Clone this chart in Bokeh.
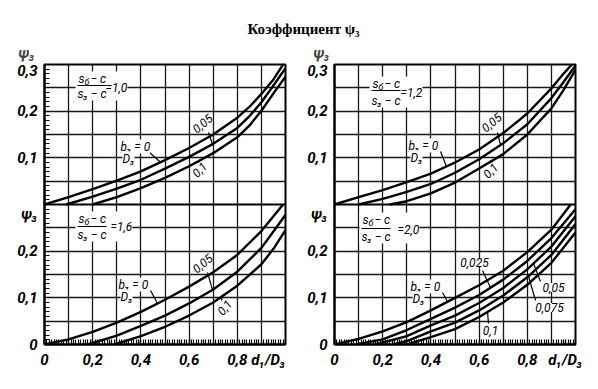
import numpy as np
from bokeh.plotting import figure
from bokeh.models import Range1d, FixedTicker, Label, Span, BoxAnnotation
from bokeh.layouts import column, row
from bokeh.embed import file_html
from bokeh.resources import INLINE

# ---------------- texts ----------------
title_text = "Коэффициент ψ₃"
x_tick_values = [0, 0.2, 0.4, 0.6, 0.8]
x_tick_labels = ["0", "0,2", "0,4", "0,6", "0,8"]
x_name = "d₁/D₃"
y_tick_values_top = [0, 0.1, 0.2, 0.3]
y_tick_labels_top = ["0", "0,1", "0,2", "0,3"]
y_tick_values_bottom = [0, 0.1, 0.2]
y_tick_labels_bottom = ["0", "0,1", "0,2"]
y_name = "ψ₃"
ratios = ["1,0", "1,2", "1,6", "2,0"]          # (s_б - c)/(s_3 - c) for TL, TR, BL, BR
b_labels_3 = ["0,05", "0,1"]
b_labels_5 = ["0,025", "0,05", "0,075", "0,1"]

# ---------------- data ----------------
# top-left, ratio 1,0
tl_x_0 = [0, 0.1, 0.2, 0.3, 0.4, 0.5, 0.6, 0.7, 0.8, 0.85, 0.9, 0.95, 0.99]
tl_y_0 = [0, 0.016, 0.033, 0.051, 0.071, 0.095, 0.121, 0.150, 0.186, 0.209, 0.237, 0.268, 0.300]
tl_x_05 = [0.09, 0.2, 0.3, 0.4, 0.5, 0.6, 0.7, 0.8, 0.85, 0.9, 0.95, 1.0]
tl_y_05 = [0, 0.017, 0.034, 0.053, 0.077, 0.102, 0.130, 0.164, 0.189, 0.219, 0.255, 0.292]
tl_x_1 = [0.2, 0.3, 0.4, 0.5, 0.6, 0.7, 0.8, 0.85, 0.9, 0.95, 1.0]
tl_y_1 = [0, 0.016, 0.035, 0.057, 0.082, 0.110, 0.144, 0.169, 0.201, 0.238, 0.274]

# top-right, ratio 1,2
tr_x_0 = [0, 0.1, 0.2, 0.3, 0.4, 0.5, 0.6, 0.7, 0.8, 0.9, 0.95, 0.985]
tr_y_0 = [0, 0.016, 0.031, 0.048, 0.066, 0.090, 0.118, 0.153, 0.195, 0.249, 0.280, 0.300]
tr_x_05 = [0.1, 0.2, 0.3, 0.4, 0.5, 0.6, 0.7, 0.8, 0.9, 0.95, 1.0]
tr_y_05 = [0, 0.012, 0.027, 0.044, 0.068, 0.097, 0.131, 0.172, 0.228, 0.262, 0.298]
tr_x_1 = [0.23, 0.3, 0.4, 0.5, 0.6, 0.7, 0.8, 0.9, 0.95, 1.0]
tr_y_1 = [0, 0.007, 0.024, 0.047, 0.077, 0.108, 0.150, 0.206, 0.245, 0.289]

# bottom-left, ratio 1,6
bl_x_0 = [0, 0.1, 0.2, 0.3, 0.4, 0.5, 0.6, 0.7, 0.8, 0.9, 0.95, 0.99]
bl_y_0 = [0, 0.011, 0.027, 0.047, 0.070, 0.096, 0.124, 0.155, 0.192, 0.243, 0.275, 0.300]
bl_x_05 = [0.18, 0.3, 0.4, 0.5, 0.6, 0.7, 0.8, 0.9, 0.95, 1.0]
bl_y_05 = [0, 0.019, 0.040, 0.062, 0.088, 0.118, 0.156, 0.207, 0.242, 0.278]
bl_x_1 = [0.29, 0.4, 0.5, 0.6, 0.7, 0.8, 0.9, 0.95, 1.0]
bl_y_1 = [0, 0.018, 0.038, 0.062, 0.090, 0.126, 0.172, 0.205, 0.245]

# bottom-right, ratio 2,0
br_x_0 = [0, 0.1, 0.2, 0.3, 0.4, 0.5, 0.6, 0.7, 0.8, 0.9, 0.98]
br_y_0 = [0, 0.012, 0.028, 0.048, 0.073, 0.100, 0.127, 0.158, 0.198, 0.246, 0.300]
br_x_025 = [0.09, 0.2, 0.3, 0.4, 0.5, 0.6, 0.7, 0.8, 0.9, 1.0]
br_y_025 = [0, 0.011, 0.031, 0.055, 0.079, 0.106, 0.139, 0.179, 0.228, 0.290]
br_x_05 = [0.17, 0.3, 0.4, 0.5, 0.6, 0.7, 0.8, 0.9, 1.0]
br_y_05 = [0, 0.018, 0.041, 0.062, 0.089, 0.121, 0.161, 0.210, 0.275]
br_x_075 = [0.24, 0.3, 0.4, 0.5, 0.6, 0.7, 0.8, 0.9, 1.0]
br_y_075 = [0, 0.007, 0.028, 0.047, 0.073, 0.105, 0.144, 0.192, 0.258]
br_x_1 = [0.3, 0.4, 0.5, 0.6, 0.7, 0.8, 0.9, 1.0]
br_y_1 = [0, 0.016, 0.033, 0.059, 0.090, 0.128, 0.175, 0.240]

# ---------------- styling / layout ----------------
FONT = "Roboto"
TFONT = "Liberation Serif"
FRAME_W, FRAME_H = 241, 280
LEFT0 = {"L": 44, "R": 334}       # page x of frame left edge
BOTTOM_PX = 343                   # page y of frame bottom
PX_PER_Y = FRAME_H / 0.6


def dx(side, px):
    return (px - LEFT0[side]) / FRAME_W


def dy(rng, py):
    y = (BOTTOM_PX - py) / PX_PER_Y
    return y - 0.3 if rng == "top" else y


def add_text(p, side, rng, px, py, text, size="12px", align="left", baseline="middle",
             angle=0, style="italic", font=FONT, bg=None):
    lab = Label(x=dx(side, px), y=dy(rng, py), text=text, text_font=font,
                text_font_style=style, text_font_size=size, text_align=align,
                text_baseline=baseline, angle=np.deg2rad(angle), text_color="black",
                y_range_name=rng, background_fill_color=bg)
    p.add_layout(lab)


def seg(p, side, rng, px0, py0, px1, py1, w=1.3):
    p.segment(x0=[dx(side, px0)], y0=[dy(rng, py0)], x1=[dx(side, px1)], y1=[dy(rng, py1)],
              y_range_name=rng, line_color="black", line_width=w)


def leader_to_curve(p, side, rng, px0, py0, px1, cx, cy, w=1.2):
    x1 = dx(side, px1)
    y1 = float(np.interp(x1, cx, cy))
    p.segment(x0=[dx(side, px0)], y0=[dy(rng, py0)], x1=[x1], y1=[y1],
              y_range_name=rng, line_color="black", line_width=w)


def fraction(p, side, rng, left, num_py, line_py, den_py, eq_px, eq_py, ratio):
    p.add_layout(BoxAnnotation(left=dx(side, left - 3), right=dx(side, eq_px + 22),
                               top=dy(rng, num_py - 7), bottom=dy(rng, den_py + 7),
                               y_range_name=rng, fill_color="white", fill_alpha=1,
                               line_alpha=0, level="underlay"))
    add_text(p, side, rng, left, num_py, "s")
    add_text(p, side, rng, left + 6, num_py + 3, "б", size="9px")
    add_text(p, side, rng, left + 12, num_py, "− c")
    seg(p, side, rng, left - 1, line_py, left + 28, line_py, w=1.2)
    add_text(p, side, rng, left - 1, den_py, "s₃ − c")
    add_text(p, side, rng, eq_px, eq_py, "=" + ratio)


def b_label(p, side, rng, left, py):
    add_text(p, side, rng, left, py, "b₃ = 0", bg="white")
    seg(p, side, rng, left, py + 6, left + 13, py + 6, w=1.1)
    add_text(p, side, rng, left + 2, py + 12, "D₃", bg="white")


def make_column(side, minor_y, border_left, border_right, name_x, name_offset):
    p = figure(frame_width=FRAME_W, frame_height=FRAME_H,
               x_range=Range1d(0, 1), y_range=Range1d(0, 0.6),
               output_backend="svg", toolbar_location=None,
               min_border_left=border_left, min_border_right=border_right,
               min_border_top=25, min_border_bottom=28,
               background_fill_color="white", border_fill_color="white")
    p.extra_y_ranges = {"top": Range1d(-0.3, 0.3)}
    p.outline_line_color = "black"
    p.outline_line_width = 2

    # y-axis name above the top panel
    p.title.text = y_name
    p.title.align = "left"
    p.title.offset = name_offset
    p.title.standoff = 6
    p.title.text_font = FONT
    p.title.text_font_style = "bold italic"
    p.title.text_font_size = "15px"

    # grid
    p.xgrid.ticker = FixedTicker(ticks=[round(0.1 * i, 2) for i in range(1, 10)])
    p.ygrid.ticker = FixedTicker(ticks=[round(0.05 * i, 2) for i in range(1, 12) if i != 6])
    for g in (p.xgrid[0], p.ygrid[0]):
        g.grid_line_color = "black"
        g.grid_line_width = 1.3
        g.grid_line_alpha = 0.9
    p.add_layout(Span(location=0.3, dimension="width", line_color="black", line_width=2))

    # y axis: bottom panel ticks, y-name of bottom panel, top panel ticks (shifted by 0.3);
    # the topmost label sits just below the frame edge, as in the original
    top_pos = [v + 0.3 for v in y_tick_values_top[1:]]
    top_pos[-1] -= 0.013
    yt = ([float(v) for v in y_tick_values_bottom] + [0.28] + [round(v, 3) for v in top_pos])
    yl = y_tick_labels_bottom + [y_name] + y_tick_labels_top[1:]
    yax = p.yaxis[0]
    yax.ticker = FixedTicker(ticks=yt, minor_ticks=[round(0.01 * i, 2) for i in range(0, 61)] if minor_y else [])
    yax.major_label_overrides = dict(zip(yt, yl))
    yax.major_tick_in = 0
    yax.major_tick_out = 0
    yax.minor_tick_in = 5 if minor_y else 0
    yax.minor_tick_out = 0
    yax.minor_tick_line_width = 1.2
    yax.axis_line_width = 2
    yax.major_label_standoff = 7
    yax.major_label_text_font = FONT
    yax.major_label_text_font_style = "bold italic"
    yax.major_label_text_font_size = "15px"
    yax.major_label_text_color = "black"

    xt = [float(v) for v in x_tick_values] + [name_x]
    xl = x_tick_labels + [x_name]
    xax = p.xaxis[0]
    xax.ticker = FixedTicker(ticks=xt, minor_ticks=[round(0.01 * i, 2) for i in range(0, 101)])
    xax.major_label_overrides = dict(zip(xt, xl))
    xax.major_tick_in = 5
    xax.major_tick_out = 0
    xax.major_tick_line_width = 1.2
    xax.minor_tick_in = 5
    xax.minor_tick_out = 0
    xax.minor_tick_line_width = 1.2
    xax.axis_line_width = 2
    xax.major_label_standoff = 6
    xax.major_label_text_font = FONT
    xax.major_label_text_font_style = "bold italic"
    xax.major_label_text_font_size = "15px"
    xax.major_label_text_color = "black"
    return p


def curve(p, rng, xs, ys):
    p.line(xs, ys, y_range_name=rng, line_color="black", line_width=2.4, line_join="round")


# ---------------- left column ----------------
pl = make_column("L", True, 44, 5, 0.929, -26)
for xs, ys in [(tl_x_0, tl_y_0), (tl_x_05, tl_y_05), (tl_x_1, tl_y_1)]:
    curve(pl, "top", xs, ys)
for xs, ys in [(bl_x_0, bl_y_0), (bl_x_05, bl_y_05), (bl_x_1, bl_y_1)]:
    curve(pl, "default", xs, ys)

fraction(pl, "L", "top", 78, 77, 84, 92, 105, 86, ratios[0])
b_label(pl, "L", "top", 120, 145)
leader_to_curve(pl, "L", "top", 148, 150, 160, tl_x_0, tl_y_0)
add_text(pl, "L", "top", 202, 122, b_labels_3[0], align="center", angle=40)
leader_to_curve(pl, "L", "top", 208, 131, 212, tl_x_05, tl_y_05)
add_text(pl, "L", "top", 199, 168, b_labels_3[1], align="center", angle=45)
leader_to_curve(pl, "L", "top", 198, 161, 199, tl_x_1, tl_y_1)

fraction(pl, "L", "default", 78, 217, 225, 233, 110, 225, ratios[2])
b_label(pl, "L", "default", 118, 283)
leader_to_curve(pl, "L", "default", 150, 289, 157, bl_x_0, bl_y_0)
add_text(pl, "L", "default", 202, 262, b_labels_3[0], align="center", angle=40)
leader_to_curve(pl, "L", "default", 207, 271, 212, bl_x_05, bl_y_05)
add_text(pl, "L", "default", 224, 306, b_labels_3[1], align="center", angle=50)
leader_to_curve(pl, "L", "default", 221, 299, 222, bl_x_1, bl_y_1)

# ---------------- right column ----------------
pr = make_column("R", False, 44, 15, 0.958, -21)
for xs, ys in [(tr_x_0, tr_y_0), (tr_x_05, tr_y_05), (tr_x_1, tr_y_1)]:
    curve(pr, "top", xs, ys)
for xs, ys in [(br_x_0, br_y_0), (br_x_025, br_y_025), (br_x_05, br_y_05),
               (br_x_075, br_y_075), (br_x_1, br_y_1)]:
    curve(pr, "default", xs, ys)

fraction(pr, "R", "top", 372, 82, 89, 99, 400, 91, ratios[1])
b_label(pr, "R", "top", 408, 144)
leader_to_curve(pr, "R", "top", 440, 150, 446, tr_x_0, tr_y_0)
add_text(pr, "R", "top", 491, 121, b_labels_3[0], align="center", angle=40)
leader_to_curve(pr, "R", "top", 497, 131, 500, tr_x_05, tr_y_05)
add_text(pr, "R", "top", 490, 169, b_labels_3[1], align="center", angle=45)
leader_to_curve(pr, "R", "top", 491, 161, 492, tr_x_1, tr_y_1)

fraction(pr, "R", "default", 362, 218, 227, 235, 397, 228, ratios[3])
b_label(pr, "R", "default", 410, 285)
leader_to_curve(pr, "R", "default", 442, 291, 447, br_x_0, br_y_0)
add_text(pr, "R", "default", 474, 261, b_labels_5[0], align="center", bg="white")
leader_to_curve(pr, "R", "default", 482, 269, 490, br_x_025, br_y_025)
add_text(pr, "R", "default", 553, 286, b_labels_5[1], align="center", bg="white")
leader_to_curve(pr, "R", "default", 540, 280, 533, br_x_05, br_y_05)
add_text(pr, "R", "default", 549, 306, b_labels_5[2], align="center", bg="white")
leader_to_curve(pr, "R", "default", 535, 299, 528, br_x_075, br_y_075)
add_text(pr, "R", "default", 490, 329, b_labels_5[3], align="center", bg="white")
leader_to_curve(pr, "R", "default", 488, 322, 487, br_x_1, br_y_1)

# ---------------- title ----------------
pt = figure(width=590, height=38, x_range=Range1d(0, 590), y_range=Range1d(0, 38),
            output_backend="svg", toolbar_location=None, min_border=0,
            x_axis_location=None, y_axis_location=None)
pt.outline_line_color = None
pt.grid.visible = False
pt.add_layout(Label(x=303, y=10, text=title_text, text_font=TFONT, text_font_style="bold",
                    text_font_size="15px", text_align="center", text_baseline="middle",
                    text_color="black"))

layout = column(pt, row(pl, pr))
open("out.html", "w").write(file_html(layout, INLINE))
